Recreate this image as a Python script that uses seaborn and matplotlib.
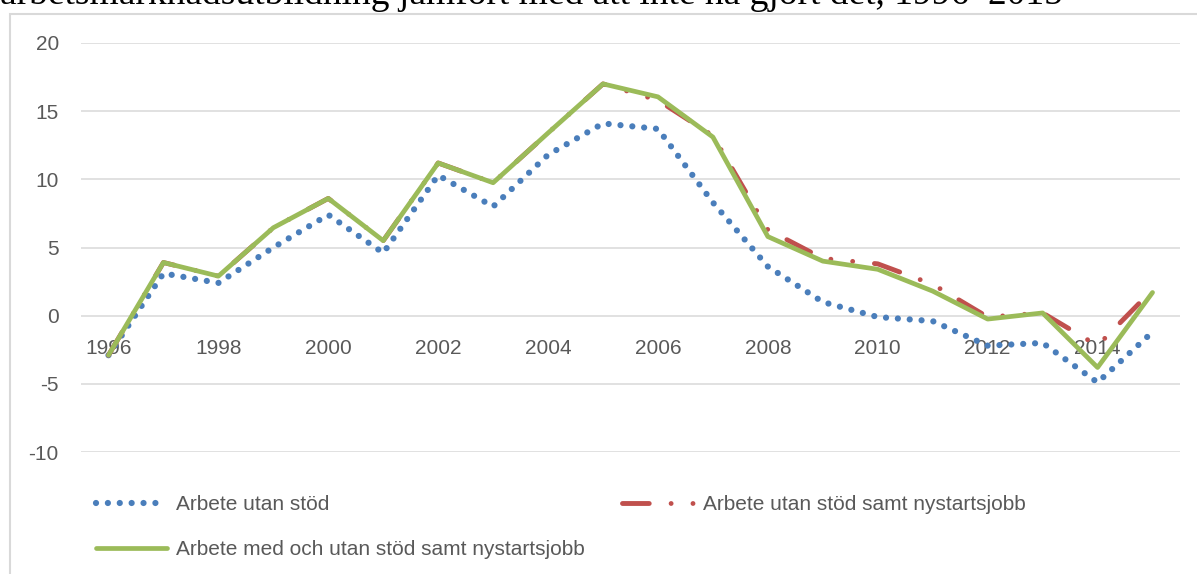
import matplotlib
matplotlib.use("Agg")
import matplotlib.pyplot as plt
import matplotlib.patches as mpatches
import seaborn as sns
import pandas as pd

years = list(range(1996, 2016))
utan_stod = [-2.9, 3.1, 2.4, 5.0, 7.4, 4.6, 10.3, 8.0, 11.8, 14.1,
             13.7, 8.3, 3.6, 1.0, -0.1, -0.4, -2.2, -2.0, -4.9, -1.2]
utan_stod_nystart = [-2.9, 3.9, 2.9, 6.45, 8.6, 5.5, 11.2, 9.75, 13.4, 17.0,
                     15.8, 13.2, 6.3, 4.2, 3.8, 2.3, -0.1, 0.2, -2.2, 1.9]
med_och_utan = [-2.9, 3.9, 2.9, 6.45, 8.6, 5.5, 11.2, 9.75, 13.4, 17.0,
                16.05, 13.1, 5.8, 4.0, 3.4, 1.8, -0.25, 0.2, -3.8, 1.7]
labels = ["Arbete utan stöd",
          "Arbete utan stöd samt nystartsjobb",
          "Arbete med och utan stöd samt nystartsjobb"]
title = "arbetsmarknadsutbildning jämfört med att inte ha gjort det, 1996–2015"
yticks = [-10, -5, 0, 5, 10, 15, 20]
xticks = list(range(1996, 2016, 2))

df = pd.DataFrame({"year": years, "a": utan_stod, "b": utan_stod_nystart, "c": med_och_utan})

sns.set_theme(style="white")
plt.rcParams["font.family"] = ["Liberation Sans", "DejaVu Sans"]
plt.rcParams["axes.unicode_minus"] = False

W, H = 1197, 574
fig = plt.figure(figsize=(W / 100, H / 100), dpi=100)
ax = fig.add_axes([81 / W, 1 - 452 / H, (1180 - 81) / W, (452 - 43) / H])

blue = "#4A7EBB"
red = "#C0504D"
green = "#9BBB59"

sns.lineplot(data=df, x="year", y="a", ax=ax, color=blue, lw=4.5,
             linestyle=(0, (0.001, 1.9)), dash_capstyle="round", label=labels[0])
sns.lineplot(data=df, x="year", y="b", ax=ax, color=red, lw=3.5,
             linestyle=(0, (5.5, 4.5, 0.001, 4.5, 0.001, 4.5)), dash_capstyle="round",
             label=labels[1])
sns.lineplot(data=df, x="year", y="c", ax=ax, color=green, lw=3.4,
             solid_joinstyle="round", label=labels[2])

ax.set_xlim(1995.5, 2015.5)
ax.set_ylim(-10, 20)
ax.set_yticks(yticks)
ax.set_xticks(xticks)
ax.set_xticklabels([str(x) for x in xticks])
ax.set_xlabel("")
ax.set_ylabel("")
ax.yaxis.grid(True, color="#D9D9D9", lw=1.1)
ax.xaxis.grid(False)
for s in ["left", "right", "top"]:
    ax.spines[s].set_visible(False)
ax.spines["bottom"].set_position(("data", 0))
ax.spines["bottom"].set_visible(False)
ax.tick_params(axis="both", length=0, labelsize=15, labelcolor="#595959")
ax.tick_params(axis="x", pad=17)
ax.tick_params(axis="y", pad=16)
ax.set_axisbelow(True)
ax.get_legend().remove()

h, l = ax.get_legend_handles_labels()
order = [0, 2, 1]
fig.legend([h[i] for i in order], [l[i] for i in order], ncol=2, frameon=False,
           loc="center left", bbox_to_anchor=(96 / W, 1 - 527 / H),
           borderpad=0, borderaxespad=0, handlelength=3.4, handletextpad=0.45,
           labelspacing=1.25, columnspacing=1.8, fontsize=15,
           labelcolor="#595959")

# chart frame
fig.patches.append(mpatches.Rectangle((10 / W, -0.1), 1.2, 1 - 14 / H + 0.1,
                                      transform=fig.transFigure, fill=False,
                                      edgecolor="#D9D9D9", lw=1.5))

# title partially cut off at top, as in the reference
t = fig.text(0.0, 1 - 4 / H, title, family=["Liberation Serif", "DejaVu Serif"],
             fontsize=24, va="baseline", ha="left", color="black")
fig.canvas.draw()
r = fig.canvas.get_renderer()
w = t.get_window_extent(r).width
t.set_fontsize(24 * 1065 / w)

fig.savefig("out.png", dpi=100)
